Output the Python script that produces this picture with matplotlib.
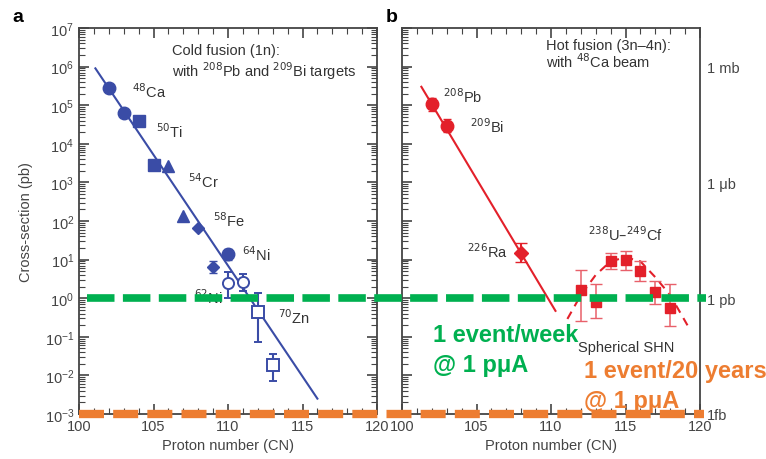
import matplotlib.pyplot as plt
import matplotlib.transforms as mtransforms
from matplotlib.ticker import LogLocator, NullFormatter, FixedLocator

plt.rcParams["font.family"] = ["Liberation Sans", "DejaVu Sans"]

BLUE = "#3a4ca6"
RED = "#e3202a"
GREEN = "#00b050"
ORANGE = "#ed7d31"
GRAY = "#444444"

# panel a: cold fusion, one list per marker group
ca_z = [102, 103, 110]
ca_sig = [2.8e5, 6.3e4, 14]
ca_err = [[0, 0, 4], [0, 0, 5]]
ti_z = [104, 105]
ti_sig = [3.9e4, 2.8e3]
cr_z = [106, 107]
cr_sig = [2.7e3, 1.35e2]
fe_z = [108, 109]
fe_sig = [65, 6.5]
fe_err = [[0, 2], [0, 2.5]]
ni62_z = [110, 111]
ni62_sig = [2.5, 2.6]
ni62_err = [[1.5, 1.1], [2.3, 1.7]]
zn_z = [112, 113]
zn_sig = [0.44, 0.019]
zn_err = [[0.366, 0.012], [0.91, 0.016]]
cold_fit_z = [101.1, 116.0]
cold_fit_sig = [9e5, 2.5e-3]

# panel b: hot fusion
pb_bi_z = [102, 103]
pb_bi_sig = [1.07e5, 2.9e4]
pb_bi_err = [[3.5e4, 9e3], [5e4, 1.4e4]]
ra_z = [108]
ra_sig = [14.7]
ra_err = [[6.0], [12.3]]
hot_fit_z = [101.3, 110.3]
hot_fit_sig = [3e5, 0.47]
shn_z = [112, 113, 114, 115, 116, 117, 118]
shn_sig = [1.6, 0.8, 9.0, 9.8, 5.0, 1.45, 0.56]
shn_lo = [0.26, 0.3, 5.8, 5.4, 2.8, 0.7, 0.19]
shn_hi = [5.4, 2.3, 15, 16.6, 9.0, 2.8, 2.3]
shn_curve_z = [111.1, 112, 113, 114, 115, 116, 117, 118, 119.3]
shn_curve_sig = [0.29, 1.2, 4.0, 9.0, 11.5, 9.0, 3.5, 1.2, 0.16]

right_ticks = [1e6, 1e3, 1e0, 1e-3]
right_labels = ["1 mb", "1 \u03bcb", "1 pb", "1fb"]

one_week = 1.0
twenty_years = 1e-3

fig = plt.figure(figsize=(7.66, 4.6), dpi=100)
ax1 = fig.add_axes([79 / 766, 1 - 415 / 460, 298 / 766, 386 / 460])
ax2 = fig.add_axes([402 / 766, 1 - 415 / 460, 298 / 766, 386 / 460])

for ax in (ax1, ax2):
    ax.set_yscale("log")
    ax.set_xlim(100, 120)
    ax.set_ylim(1e-3, 1e7)
    ax.set_xticks([100, 105, 110, 115, 120])
    ax.xaxis.set_minor_locator(FixedLocator(range(100, 121)))
    ax.yaxis.set_major_locator(LogLocator(base=10, numticks=20))
    ax.yaxis.set_minor_locator(LogLocator(base=10, subs=range(2, 10), numticks=20))
    ax.yaxis.set_minor_formatter(NullFormatter())
    ax.tick_params(which="both", direction="in", top=True, right=True,
                   color=GRAY, labelcolor=GRAY, labelsize=10.5)
    ax.tick_params(which="major", length=7, width=1.2)
    ax.tick_params(which="minor", length=4, width=0.8)
    for s in ax.spines.values():
        s.set_color(GRAY)
        s.set_linewidth(1.3)
    ax.set_xlabel("Proton number (CN)", color=GRAY, fontsize=10.5, labelpad=4)

ax1.set_ylabel("Cross-section (pb)", color=GRAY, fontsize=10.5, labelpad=8)
ax2.tick_params(axis="y", which="both", labelleft=False)

# right-hand unit labels
axr = ax2.twinx()
axr.set_yscale("log")
axr.set_ylim(ax2.get_ylim())
axr.set_yticks(right_ticks)
axr.set_yticklabels(right_labels)
axr.yaxis.set_minor_formatter(NullFormatter())
axr.tick_params(which="both", length=0, labelcolor=GRAY, labelsize=10.5, pad=5)
for s in axr.spines.values():
    s.set_visible(False)

# panel a
ax1.plot(cold_fit_z, cold_fit_sig, color=BLUE, lw=1.5)
ax1.errorbar(ca_z, ca_sig, yerr=ca_err, fmt="o", color=BLUE, ms=9, capsize=3)
ax1.plot(ti_z, ti_sig, "s", color=BLUE, ms=8)
ax1.plot(cr_z, cr_sig, "^", color=BLUE, ms=8)
ax1.errorbar(fe_z, fe_sig, yerr=fe_err, fmt="D", color=BLUE, ms=6, capsize=3)
ax1.errorbar(ni62_z, ni62_sig, yerr=ni62_err, fmt="o", color=BLUE, mfc="white",
             ms=8, mew=1.4, capsize=3)
ax1.errorbar(zn_z, zn_sig, yerr=zn_err, fmt="s", color=BLUE, mfc="white",
             ms=8, mew=1.4, capsize=3)

tk = dict(color="#333333", fontsize=10.5, transform=fig.transFigure, va="center")
fig.text(172 / 766, 1 - 51 / 460, "Cold fusion (1n):", **tk)
fig.text(172 / 766, 1 - 71 / 460, "with $^{208}$Pb and $^{209}$Bi targets", **tk)
fig.text(132 / 766, 1 - 92 / 460, "$^{48}$Ca", **tk)
fig.text(156 / 766, 1 - 132 / 460, "$^{50}$Ti", **tk)
fig.text(188 / 766, 1 - 182 / 460, "$^{54}$Cr", **tk)
fig.text(213 / 766, 1 - 221 / 460, "$^{58}$Fe", **tk)
fig.text(242 / 766, 1 - 255 / 460, "$^{64}$Ni", **tk)
fig.text(194 / 766, 1 - 298 / 460, "$^{62}$Ni", **tk)
fig.text(278 / 766, 1 - 318 / 460, "$^{70}$Zn", **tk)

# panel b
ax2.plot(hot_fit_z, hot_fit_sig, color=RED, lw=1.5)
ax2.errorbar(pb_bi_z, pb_bi_sig, yerr=pb_bi_err, fmt="o", color=RED, ms=9, capsize=3)
ax2.errorbar(ra_z, ra_sig, yerr=ra_err, fmt="D", color=RED, ms=7, capsize=4)
ax2.plot(shn_curve_z, shn_curve_sig, "--", color=RED, lw=1.5, dashes=(4, 3))
ax2.errorbar(shn_z, shn_sig, yerr=[[s - l for s, l in zip(shn_sig, shn_lo)],
                                   [h - s for s, h in zip(shn_sig, shn_hi)]],
             fmt="s", color=RED, ecolor="#e8606a", ms=7, capsize=4, elinewidth=1.1)

fig.text(546 / 766, 1 - 46 / 460, "Hot fusion (3n\u20134n):", **tk)
fig.text(546 / 766, 1 - 62 / 460, "with $^{48}$Ca beam", **tk)
fig.text(443 / 766, 1 - 97 / 460, "$^{208}$Pb", **tk)
fig.text(470 / 766, 1 - 127 / 460, "$^{209}$Bi", **tk)
fig.text(467 / 766, 1 - 252 / 460, "$^{226}$Ra", **tk)
fig.text(588 / 766, 1 - 235 / 460, "$^{238}$U\u2013$^{249}$Cf", **tk)
fig.text(578 / 766, 1 - 348 / 460, "Spherical SHN", **tk)

fig.text(12 / 766, 1 - 18 / 460, "a", fontsize=14, fontweight="bold", va="center")
fig.text(386 / 766, 1 - 18 / 460, "b", fontsize=14, fontweight="bold", va="center")

# rate limits spanning both panels
tr = mtransforms.blended_transform_factory(fig.transFigure, ax1.transData)
fig.add_artist(plt.Line2D([87 / 766, 706 / 766], [one_week, one_week], transform=tr,
                          color=GREEN, lw=5.5, dashes=(3.6, 1.1), zorder=10))
fig.add_artist(plt.Line2D([79 / 766, 704 / 766], [twenty_years, twenty_years], transform=tr,
                          color=ORANGE, lw=6, dashes=(3.0, 1.1), zorder=10))

big = dict(fontsize=17, fontweight="bold", va="center", transform=fig.transFigure)
fig.text(433 / 766, 1 - 335 / 460, "1 event/week", color=GREEN, **big)
fig.text(433 / 766, 1 - 366 / 460, "@ 1 p\u03bcA", color=GREEN, **big)
fig.text(584 / 766, 1 - 372 / 460, "1 event/20 years", color=ORANGE, **big)
fig.text(584 / 766, 1 - 402 / 460, "@ 1 p\u03bcA", color=ORANGE, **big)

fig.savefig("out.png", dpi=100)
